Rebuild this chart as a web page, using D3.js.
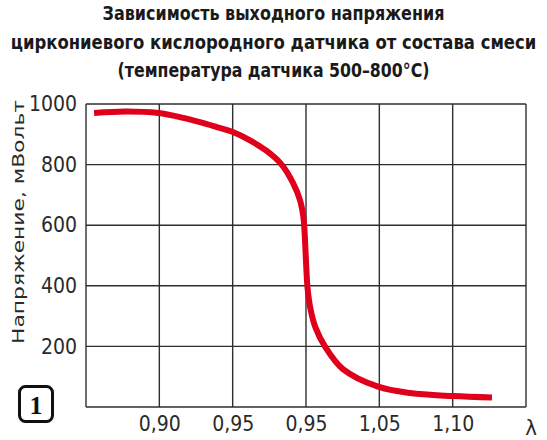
<!DOCTYPE html>
<html>
<head>
<meta charset="utf-8">
<script src="https://cdn.jsdelivr.net/npm/d3@7"></script>
<style>
  body { margin: 0; background: #fff; }
  svg { display: block; }
</style>
</head>
<body>
<div id="chart"></div>
<script>
// values
const titleLines = [
  "Зависимость выходного напряжения",
  "циркониевого кислородного датчика от состава смеси",
  "(температура датчика 500–800°С)"
];
const lambdaVals = [0.8555, 0.877, 0.8993, 0.9163, 0.9277, 0.9391, 0.9493, 0.9618, 0.9732, 0.9834, 0.9913, 0.9959, 0.9982, 0.9990, 0.9998, 1.0004, 1.0011, 1.0030, 1.0065, 1.0129, 1.0252, 1.0491, 1.0709, 1.1002, 1.1268];
const voltage = [970, 975, 970, 954, 940, 924, 909, 880, 845, 800, 738, 683, 628, 580, 500, 440, 390, 325, 262, 200, 125, 67, 46, 36, 31];
const xTicks = [0.90, 0.95, 1.00, 1.05, 1.10];
const xTickLabels = ["0,90", "0,95", "0,95", "1,05", "1,10"]; // as printed in the original
const xGrid = [0.85, 0.90, 0.95, 1.00, 1.05, 1.10, 1.15];
const yTicks = [200, 400, 600, 800, 1000];
const yGrid = [0, 200, 400, 600, 800, 1000];

const W = 547, H = 440;
const margin = { top: 104, right: 21, bottom: 33, left: 86 };
const width = W - margin.left - margin.right;
const height = H - margin.top - margin.bottom;
const font = "'Liberation Sans Narrow', 'DejaVu Sans Condensed', sans-serif";

const svgRoot = d3.select("#chart").append("svg")
  .attr("width", W).attr("height", H);

// title, three centred lines, squeezed to the printed widths
const titleWidths = [342, 526, 312];
const titleBase = [20, 49, 77];
titleLines.forEach((t, i) => {
  const g = svgRoot.append("g");
  const txt = g.append("text")
    .attr("x", 0).attr("y", 0)
    .attr("text-anchor", "middle")
    .attr("font-family", font)
    .attr("font-weight", "bold")
    .attr("font-size", "20px")
    .attr("fill", "#1a1a1a")
    .text(t);
  const sx = titleWidths[i] / txt.node().getComputedTextLength();
  g.attr("transform", `translate(${W / 2},${titleBase[i]}) scale(${sx},1)`);
});

const svg = svgRoot.append("g")
  .attr("transform", `translate(${margin.left},${margin.top})`);

const x = d3.scaleLinear().domain([0.85, 1.15]).range([0, width]);
const y = d3.scaleLinear().domain([0, 1000]).range([height, 0]);

// grid
svg.append("g").selectAll("line").data(xGrid).enter().append("line")
  .attr("x1", d => x(d)).attr("x2", d => x(d))
  .attr("y1", 0).attr("y2", height)
  .attr("stroke", "#2e2e2e").attr("stroke-width", 1.4);
svg.append("g").selectAll("line").data(yGrid).enter().append("line")
  .attr("x1", 0).attr("x2", width)
  .attr("y1", d => y(d)).attr("y2", d => y(d))
  .attr("stroke", "#2e2e2e").attr("stroke-width", 1.4);

// axes (labels only)
const yAxis = svg.append("g")
  .call(d3.axisLeft(y).tickValues(yTicks).tickSize(0).tickPadding(9).tickFormat(d3.format("d")));
yAxis.select(".domain").remove();
yAxis.selectAll("text")
  .attr("font-family", font).attr("font-size", "21px").attr("fill", "#2a2a2a");

const xAxis = svg.append("g")
  .attr("transform", `translate(0,${height})`)
  .call(d3.axisBottom(x).tickValues(xTicks).tickSize(0).tickPadding(9)
    .tickFormat((d, i) => xTickLabels[i]));
xAxis.select(".domain").remove();
xAxis.selectAll("text")
  .attr("font-family", font).attr("font-size", "21px").attr("fill", "#2a2a2a");

// lambda symbol
svgRoot.append("text")
  .attr("x", 531).attr("y", 435)
  .attr("text-anchor", "middle")
  .attr("font-family", font).attr("font-size", "22px").attr("fill", "#2a2a2a")
  .text("λ");

// y axis title
const yt = svgRoot.append("g");
const ytText = yt.append("text")
  .attr("text-anchor", "middle")
  .attr("font-family", font).attr("font-size", "16.5px").attr("fill", "#2a2a2a")
  .text("Напряжение, мВольт");
const ysx = 244 / ytText.node().getComputedTextLength();
yt.attr("transform", `translate(24,222) rotate(-90) scale(${ysx},1)`);

// curve
const pts = lambdaVals.map((l, i) => [l, voltage[i]]);
const line = d3.line()
  .x(d => x(d[0])).y(d => y(d[1]))
  .curve(d3.curveCatmullRom.alpha(0.5));
svg.append("path")
  .datum(pts)
  .attr("d", line)
  .attr("fill", "none")
  .attr("stroke", "#e0001b")
  .attr("stroke-width", 6)
  .attr("stroke-linecap", "butt");

// figure number box
svgRoot.append("rect")
  .attr("x", 19.5).attr("y", 386.5).attr("width", 33).attr("height", 35)
  .attr("rx", 6).attr("fill", "#fff")
  .attr("stroke", "#111").attr("stroke-width", 3);
svgRoot.append("text")
  .attr("x", 36).attr("y", 414)
  .attr("text-anchor", "middle")
  .attr("font-family", "'Liberation Serif', 'DejaVu Serif', serif")
  .attr("font-weight", "bold").attr("font-size", "26px").attr("fill", "#111")
  .text("1");
</script>
</body>
</html>
